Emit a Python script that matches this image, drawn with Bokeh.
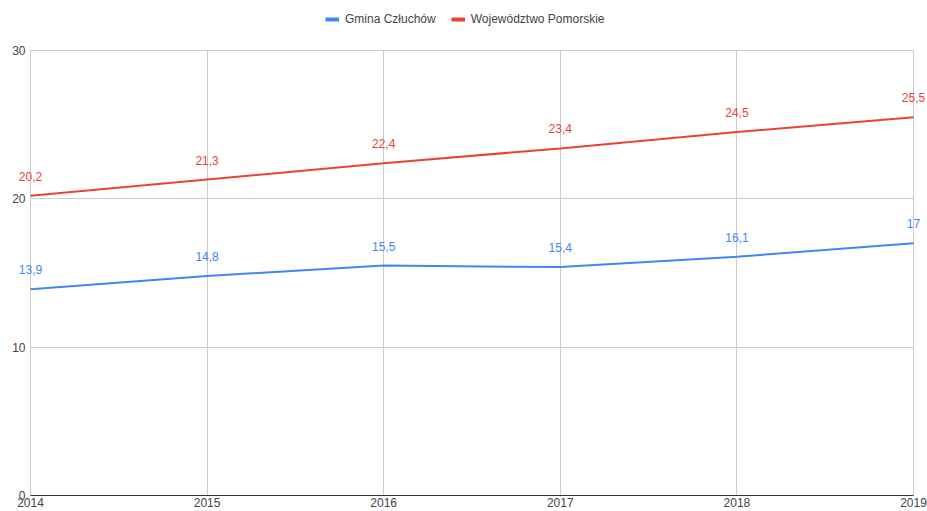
from bokeh.plotting import figure
from bokeh.models import ColumnDataSource, LabelSet, Legend, LegendItem, FixedTicker, Range1d
from bokeh.core.properties import value
from bokeh.embed import file_html
from bokeh.resources import INLINE

years = [2014, 2015, 2016, 2017, 2018, 2019]
gmina = [13.9, 14.8, 15.5, 15.4, 16.1, 17.0]
pomorskie = [20.2, 21.3, 22.4, 23.4, 24.5, 25.5]
y_ticks = [0, 10, 20, 30]
series_names = ["Gmina Człuchów", "Województwo Pomorskie"]
colors = ["#4285F4", "#EA4335"]

def fmt(v):
    return ("%g" % v).replace(".", ",")

FONT = "Liberation Sans"
W, H = 927, 511
# layout (figure pixels)
FL, FR = 14, 927         # frame left / right
X0, X1 = 30, 913         # pixel positions of first / last year
FT, FB = 0, 495          # frame top / bottom (bottom = y 0)
YTOP = 50                # pixel position of y = 30

xmin, xmax = years[0], years[-1]
ymin, ymax = y_ticks[0], y_ticks[-1]
pxu = (X1 - X0) / (xmax - xmin)
pyu = (FB - YTOP) / (ymax - ymin)

p = figure(width=W, height=H, output_backend="svg", toolbar_location=None,
           x_range=Range1d(xmin - (X0 - FL) / pxu, xmax + (FR - X1) / pxu),
           y_range=Range1d(ymin, ymax + (YTOP - FT) / pyu),
           min_border_left=FL, min_border_right=W - FR, min_border_top=FT, min_border_bottom=H - FB)
p.outline_line_color = None
p.background_fill_color = "white"

p.xaxis.ticker = FixedTicker(ticks=years)
p.yaxis.ticker = FixedTicker(ticks=y_ticks)
for ax in (p.xaxis, p.yaxis):
    ax.major_tick_line_color = None
    ax.minor_tick_line_color = None
    ax.major_tick_out = 0
    ax.major_tick_in = 0
    ax.minor_tick_out = 0
    ax.minor_tick_in = 0
    ax.major_label_text_font = FONT
    ax.major_label_text_font_size = "12px"
    ax.major_label_text_color = "#444444"
p.yaxis.axis_line_color = None
p.yaxis.major_label_standoff = FL - 25
p.xaxis.axis_line_color = "#333333"
p.xaxis.bounds = (xmin, xmax)
p.xaxis.major_label_standoff = 2

p.xgrid.grid_line_color = "#cccccc"
p.ygrid.grid_line_color = "#cccccc"
p.xgrid.ticker = FixedTicker(ticks=years)
p.ygrid.ticker = FixedTicker(ticks=y_ticks)
p.ygrid.cross_bounds = (xmin, xmax)
p.xgrid.cross_bounds = (ymin, ymax)

items = []
for name, vals, c in zip(series_names, [gmina, pomorskie], colors):
    src = ColumnDataSource(dict(x=years, y=vals, t=[fmt(v) for v in vals]))
    p.line("x", "y", source=src, line_color=c, line_width=2)
    proxy = p.line(x=[float("nan")], y=[float("nan")], line_color=c, line_width=4)
    items.append(LegendItem(label=name, renderers=[proxy]))
    p.add_layout(LabelSet(x="x", y="y", text="t", source=src, text_color=c,
                          text_font=value(FONT), text_font_size="12px", text_align="center",
                          text_baseline="bottom", y_offset=15))

legend = Legend(items=items, orientation="horizontal", location=(325 - FL, FB - 26),
                label_text_font=FONT, label_text_font_size="12px", label_text_color="#444444",
                glyph_width=14, glyph_height=10, label_standoff=6, spacing=15,
                border_line_color=None, background_fill_alpha=0, padding=2, margin=0)
p.add_layout(legend)

open("out.html", "w").write(file_html(p, INLINE))
